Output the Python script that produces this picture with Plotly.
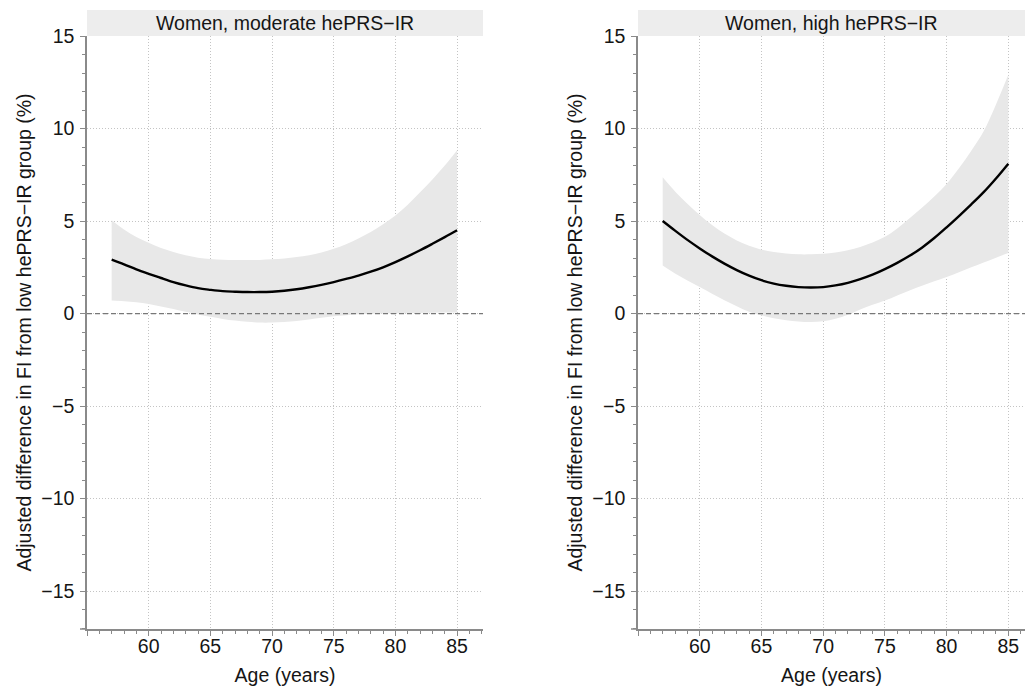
import plotly.graph_objects as go

# ---- data ----
ages = list(range(57, 86))

mod_est = [2.91, 2.66, 2.39, 2.15, 1.92, 1.70, 1.52, 1.37, 1.28, 1.21, 1.18, 1.16, 1.16, 1.18,
           1.23, 1.31, 1.42, 1.55, 1.70, 1.87, 2.05, 2.26, 2.50, 2.78, 3.09, 3.42, 3.77, 4.13, 4.50]
mod_upper = [5.04, 4.54, 4.14, 3.82, 3.54, 3.33, 3.15, 3.02, 2.95, 2.91, 2.89, 2.89, 2.90, 2.93,
             2.98, 3.05, 3.15, 3.30, 3.50, 3.75, 4.05, 4.40, 4.82, 5.30, 5.88, 6.55, 7.25, 8.00, 8.83]
mod_lower = [0.70, 0.67, 0.61, 0.52, 0.38, 0.25, 0.09, -0.05, -0.18, -0.29, -0.38, -0.45, -0.49, -0.49,
             -0.46, -0.40, -0.32, -0.23, -0.15, -0.09, -0.04, -0.01, 0.00, 0.01, 0.02, 0.03, 0.04, 0.05, 0.05]

high_est = [5.00, 4.48, 3.98, 3.52, 3.09, 2.70, 2.35, 2.05, 1.80, 1.62, 1.50, 1.43, 1.41, 1.43,
            1.52, 1.66, 1.86, 2.10, 2.40, 2.74, 3.12, 3.56, 4.08, 4.66, 5.27, 5.90, 6.56, 7.30, 8.10]
high_upper = [7.36, 6.60, 5.93, 5.32, 4.78, 4.32, 3.95, 3.66, 3.45, 3.32, 3.24, 3.20, 3.20, 3.23,
              3.30, 3.42, 3.60, 3.84, 4.15, 4.60, 5.15, 5.72, 6.33, 7.00, 7.85, 8.80, 9.85, 11.30, 12.90]
high_lower = [2.60, 2.17, 1.79, 1.43, 1.07, 0.72, 0.40, 0.10, -0.10, -0.25, -0.36, -0.43, -0.46, -0.42,
              -0.28, -0.06, 0.22, 0.47, 0.70, 0.98, 1.25, 1.50, 1.74, 1.97, 2.23, 2.50, 2.76, 3.02, 3.27]

panel_titles = ["Women, moderate hePRS\u2212IR", "Women, high hePRS\u2212IR"]
x_tickvals = [55, 60, 65, 70, 75, 80, 85]
x_ticktext = ["", "60", "65", "70", "75", "80", "85"]
y_tickvals = [-15, -10, -5, 0, 5, 10, 15]
y_title = "Adjusted difference in FI from low hePRS\u2212IR group (%)"
x_title = "Age (years)"

# ---- styling ----
FONT = "Liberation Sans, Arial, sans-serif"
FS = 19.5
TXT = "#151515"
AXIS_COL = "#8a8a8a"
GRID_COL = "#c4c4c4"
BAND_COL = "#e8e8e8"

W, H = 1025, 688
ML, MR, MT, MB = 87, 0, 36, 59
PW = W - ML - MR
PH = H - MT - MB

fig = go.Figure()

panels = [
    (mod_est, mod_upper, mod_lower, "x", "y"),
    (high_est, high_upper, high_lower, "x2", "y2"),
]
for est, up, lo, xa, ya in panels:
    fig.add_trace(go.Scatter(x=ages, y=lo, mode="lines", line=dict(width=0, shape="spline", color=BAND_COL),
                             showlegend=False, hoverinfo="skip", xaxis=xa, yaxis=ya))
    fig.add_trace(go.Scatter(x=ages, y=up, mode="lines", line=dict(width=0, shape="spline", color=BAND_COL),
                             fill="tonexty", fillcolor=BAND_COL, showlegend=False, hoverinfo="skip",
                             xaxis=xa, yaxis=ya))
    fig.add_trace(go.Scatter(x=ages, y=est, mode="lines", line=dict(width=2.4, shape="spline", color="black"),
                             showlegend=False, xaxis=xa, yaxis=ya))

left_px = 483 - ML
right_px = W - 638
left_dom = [0, left_px / PW]
right_dom = [(638 - ML) / PW, 1.0]

def xaxis_cfg(dom, rng, anchor):
    return dict(domain=dom, range=rng, anchor=anchor, tickmode="array", tickvals=x_tickvals,
                ticktext=x_ticktext, ticks="outside", ticklen=5, tickcolor=AXIS_COL, tickwidth=1,
                ticklabelstandoff=-6, ticklabeloverflow="allow",
                showline=True, linecolor=AXIS_COL, linewidth=1.5, showgrid=True, gridcolor=GRID_COL,
                griddash="1px,2px", gridwidth=1, zeroline=False,
                minor=dict(dtick=1, tick0=55, ticks="outside", ticklen=3, tickcolor=AXIS_COL, showgrid=False),
                tickfont=dict(size=FS, color=TXT),
                title=dict(text=x_title, font=dict(size=FS, color=TXT), standoff=12))

def yaxis_cfg(anchor):
    return dict(domain=[0, 1], range=[-17.05, 15], anchor=anchor, tickmode="array", tickvals=y_tickvals,
                ticks="outside", ticklen=5, tickcolor=AXIS_COL, tickwidth=1, ticklabelstandoff=2,
                showline=True, linecolor=AXIS_COL, linewidth=1.5, showgrid=True, gridcolor=GRID_COL,
                griddash="1px,2px", gridwidth=1, zeroline=False,
                minor=dict(dtick=1, tick0=0, ticks="outside", ticklen=3, tickcolor=AXIS_COL, showgrid=False),
                tickfont=dict(size=FS, color=TXT),
                title=dict(text=y_title, font=dict(size=FS, color=TXT), standoff=4))

shapes = []
annotations = []
for i, (xa, ya, wpx) in enumerate([("x", "y", left_px), ("x2", "y2", right_px)]):
    xd = xa + " domain"
    yd = ya + " domain"
    # strip background
    shapes.append(dict(type="rect", xref=xd, yref=yd, x0=0, x1=1, y0=1, y1=1 + 26 / PH,
                       fillcolor="#ededed", line=dict(width=0), layer="below"))
    # zero reference line
    shapes.append(dict(type="line", xref=xd, yref=ya, x0=0, x1=1, y0=0, y1=0,
                       line=dict(color="#787878", width=1.2, dash="5px,3px")))
    # short extension of the x axis line to the left of the y axis
    shapes.append(dict(type="line", xref=xd, yref=yd, x0=-7 / wpx, x1=0, y0=0, y1=0,
                       line=dict(color=AXIS_COL, width=1.5)))
    annotations.append(dict(text=panel_titles[i], xref=xd, yref=yd, x=0.5, y=1 + 13 / PH,
                            showarrow=False, xanchor="center", yanchor="middle",
                            font=dict(size=FS, color=TXT)))

fig.update_layout(
    width=W, height=H,
    margin=dict(l=ML, r=MR, t=MT, b=MB, autoexpand=False),
    paper_bgcolor="white", plot_bgcolor="white",
    font=dict(family=FONT, size=FS, color=TXT),
    xaxis=xaxis_cfg(left_dom, [55, 87.1], "y"),
    yaxis=yaxis_cfg("x"),
    xaxis2=xaxis_cfg(right_dom, [55, 86.35], "y2"),
    yaxis2=yaxis_cfg("x2"),
    shapes=shapes,
    annotations=annotations,
    showlegend=False,
)

# remove the browser's default body margin so the figure fills the window exactly
fig.write_html("out.html",
               config={"displayModeBar": False},
               post_script="document.body.style.margin='0';document.body.style.overflow='hidden';")
